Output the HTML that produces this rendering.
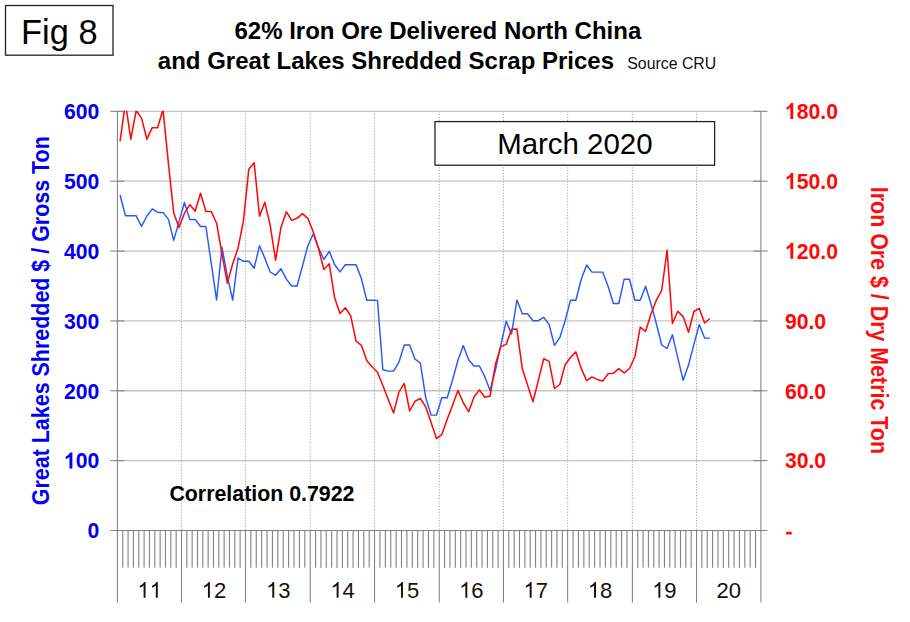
<!DOCTYPE html>
<html><head><meta charset="utf-8"><title>Fig 8</title>
<style>
html,body{margin:0;padding:0;background:#fff;}
body{width:910px;height:622px;overflow:hidden;font-family:"Liberation Sans",sans-serif;}
svg{display:block;}
text{font-family:"Liberation Sans",sans-serif;}
.yl{font-size:22.2px;font-weight:bold;fill:#0000f5;}
.yr{font-size:22.2px;font-weight:bold;fill:#ff0808;}
.xl{font-size:22px;fill:#111;}
.t1{font-size:24px;font-weight:bold;fill:#000;}
</style></head><body>
<svg width="910" height="622" viewBox="0 0 910 622">
<rect width="910" height="622" fill="#fff"/>
<defs><clipPath id="cp"><rect x="117.4" y="110.8" width="643.5" height="419.7"/></clipPath></defs>
<line x1="117.4" y1="111.30" x2="760.9" y2="111.30" stroke="#c4c4c4" stroke-width="1.3"/>
<line x1="117.4" y1="181.17" x2="760.9" y2="181.17" stroke="#c4c4c4" stroke-width="1.3"/>
<line x1="117.4" y1="251.03" x2="760.9" y2="251.03" stroke="#c4c4c4" stroke-width="1.3"/>
<line x1="117.4" y1="320.90" x2="760.9" y2="320.90" stroke="#c4c4c4" stroke-width="1.3"/>
<line x1="117.4" y1="390.77" x2="760.9" y2="390.77" stroke="#c4c4c4" stroke-width="1.3"/>
<line x1="117.4" y1="460.63" x2="760.9" y2="460.63" stroke="#c4c4c4" stroke-width="1.3"/>
<line x1="181.50" y1="111.3" x2="181.50" y2="530.5" stroke="#adadad" stroke-width="1" stroke-dasharray="1.3 1.5"/>
<line x1="245.45" y1="111.3" x2="245.45" y2="530.5" stroke="#adadad" stroke-width="1" stroke-dasharray="1.3 1.5"/>
<line x1="310.20" y1="111.3" x2="310.20" y2="530.5" stroke="#adadad" stroke-width="1" stroke-dasharray="1.3 1.5"/>
<line x1="374.55" y1="111.3" x2="374.55" y2="530.5" stroke="#adadad" stroke-width="1" stroke-dasharray="1.3 1.5"/>
<line x1="439.25" y1="111.3" x2="439.25" y2="530.5" stroke="#adadad" stroke-width="1" stroke-dasharray="1.3 1.5"/>
<line x1="503.45" y1="111.3" x2="503.45" y2="530.5" stroke="#adadad" stroke-width="1" stroke-dasharray="1.3 1.5"/>
<line x1="567.65" y1="111.3" x2="567.65" y2="530.5" stroke="#adadad" stroke-width="1" stroke-dasharray="1.3 1.5"/>
<line x1="632.40" y1="111.3" x2="632.40" y2="530.5" stroke="#adadad" stroke-width="1" stroke-dasharray="1.3 1.5"/>
<line x1="696.50" y1="111.3" x2="696.50" y2="530.5" stroke="#adadad" stroke-width="1" stroke-dasharray="1.3 1.5"/>
<line x1="122.74" y1="530.5" x2="122.74" y2="567.8" stroke="#828282" stroke-width="1.1"/>
<line x1="128.08" y1="530.5" x2="128.08" y2="567.8" stroke="#828282" stroke-width="1.1"/>
<line x1="133.43" y1="530.5" x2="133.43" y2="567.8" stroke="#828282" stroke-width="1.1"/>
<line x1="138.77" y1="530.5" x2="138.77" y2="567.8" stroke="#828282" stroke-width="1.1"/>
<line x1="144.11" y1="530.5" x2="144.11" y2="567.8" stroke="#828282" stroke-width="1.1"/>
<line x1="149.45" y1="530.5" x2="149.45" y2="567.8" stroke="#828282" stroke-width="1.1"/>
<line x1="154.79" y1="530.5" x2="154.79" y2="567.8" stroke="#828282" stroke-width="1.1"/>
<line x1="160.13" y1="530.5" x2="160.13" y2="567.8" stroke="#828282" stroke-width="1.1"/>
<line x1="165.47" y1="530.5" x2="165.47" y2="567.8" stroke="#828282" stroke-width="1.1"/>
<line x1="170.82" y1="530.5" x2="170.82" y2="567.8" stroke="#828282" stroke-width="1.1"/>
<line x1="176.16" y1="530.5" x2="176.16" y2="567.8" stroke="#828282" stroke-width="1.1"/>
<line x1="186.83" y1="530.5" x2="186.83" y2="567.8" stroke="#828282" stroke-width="1.1"/>
<line x1="192.16" y1="530.5" x2="192.16" y2="567.8" stroke="#828282" stroke-width="1.1"/>
<line x1="197.49" y1="530.5" x2="197.49" y2="567.8" stroke="#828282" stroke-width="1.1"/>
<line x1="202.82" y1="530.5" x2="202.82" y2="567.8" stroke="#828282" stroke-width="1.1"/>
<line x1="208.15" y1="530.5" x2="208.15" y2="567.8" stroke="#828282" stroke-width="1.1"/>
<line x1="213.47" y1="530.5" x2="213.47" y2="567.8" stroke="#828282" stroke-width="1.1"/>
<line x1="218.80" y1="530.5" x2="218.80" y2="567.8" stroke="#828282" stroke-width="1.1"/>
<line x1="224.13" y1="530.5" x2="224.13" y2="567.8" stroke="#828282" stroke-width="1.1"/>
<line x1="229.46" y1="530.5" x2="229.46" y2="567.8" stroke="#828282" stroke-width="1.1"/>
<line x1="234.79" y1="530.5" x2="234.79" y2="567.8" stroke="#828282" stroke-width="1.1"/>
<line x1="240.12" y1="530.5" x2="240.12" y2="567.8" stroke="#828282" stroke-width="1.1"/>
<line x1="250.85" y1="530.5" x2="250.85" y2="567.8" stroke="#828282" stroke-width="1.1"/>
<line x1="256.24" y1="530.5" x2="256.24" y2="567.8" stroke="#828282" stroke-width="1.1"/>
<line x1="261.64" y1="530.5" x2="261.64" y2="567.8" stroke="#828282" stroke-width="1.1"/>
<line x1="267.03" y1="530.5" x2="267.03" y2="567.8" stroke="#828282" stroke-width="1.1"/>
<line x1="272.43" y1="530.5" x2="272.43" y2="567.8" stroke="#828282" stroke-width="1.1"/>
<line x1="277.82" y1="530.5" x2="277.82" y2="567.8" stroke="#828282" stroke-width="1.1"/>
<line x1="283.22" y1="530.5" x2="283.22" y2="567.8" stroke="#828282" stroke-width="1.1"/>
<line x1="288.62" y1="530.5" x2="288.62" y2="567.8" stroke="#828282" stroke-width="1.1"/>
<line x1="294.01" y1="530.5" x2="294.01" y2="567.8" stroke="#828282" stroke-width="1.1"/>
<line x1="299.41" y1="530.5" x2="299.41" y2="567.8" stroke="#828282" stroke-width="1.1"/>
<line x1="304.80" y1="530.5" x2="304.80" y2="567.8" stroke="#828282" stroke-width="1.1"/>
<line x1="315.56" y1="530.5" x2="315.56" y2="567.8" stroke="#828282" stroke-width="1.1"/>
<line x1="320.93" y1="530.5" x2="320.93" y2="567.8" stroke="#828282" stroke-width="1.1"/>
<line x1="326.29" y1="530.5" x2="326.29" y2="567.8" stroke="#828282" stroke-width="1.1"/>
<line x1="331.65" y1="530.5" x2="331.65" y2="567.8" stroke="#828282" stroke-width="1.1"/>
<line x1="337.01" y1="530.5" x2="337.01" y2="567.8" stroke="#828282" stroke-width="1.1"/>
<line x1="342.38" y1="530.5" x2="342.38" y2="567.8" stroke="#828282" stroke-width="1.1"/>
<line x1="347.74" y1="530.5" x2="347.74" y2="567.8" stroke="#828282" stroke-width="1.1"/>
<line x1="353.10" y1="530.5" x2="353.10" y2="567.8" stroke="#828282" stroke-width="1.1"/>
<line x1="358.46" y1="530.5" x2="358.46" y2="567.8" stroke="#828282" stroke-width="1.1"/>
<line x1="363.82" y1="530.5" x2="363.82" y2="567.8" stroke="#828282" stroke-width="1.1"/>
<line x1="369.19" y1="530.5" x2="369.19" y2="567.8" stroke="#828282" stroke-width="1.1"/>
<line x1="379.94" y1="530.5" x2="379.94" y2="567.8" stroke="#828282" stroke-width="1.1"/>
<line x1="385.33" y1="530.5" x2="385.33" y2="567.8" stroke="#828282" stroke-width="1.1"/>
<line x1="390.73" y1="530.5" x2="390.73" y2="567.8" stroke="#828282" stroke-width="1.1"/>
<line x1="396.12" y1="530.5" x2="396.12" y2="567.8" stroke="#828282" stroke-width="1.1"/>
<line x1="401.51" y1="530.5" x2="401.51" y2="567.8" stroke="#828282" stroke-width="1.1"/>
<line x1="406.90" y1="530.5" x2="406.90" y2="567.8" stroke="#828282" stroke-width="1.1"/>
<line x1="412.29" y1="530.5" x2="412.29" y2="567.8" stroke="#828282" stroke-width="1.1"/>
<line x1="417.68" y1="530.5" x2="417.68" y2="567.8" stroke="#828282" stroke-width="1.1"/>
<line x1="423.07" y1="530.5" x2="423.07" y2="567.8" stroke="#828282" stroke-width="1.1"/>
<line x1="428.47" y1="530.5" x2="428.47" y2="567.8" stroke="#828282" stroke-width="1.1"/>
<line x1="433.86" y1="530.5" x2="433.86" y2="567.8" stroke="#828282" stroke-width="1.1"/>
<line x1="444.60" y1="530.5" x2="444.60" y2="567.8" stroke="#828282" stroke-width="1.1"/>
<line x1="449.95" y1="530.5" x2="449.95" y2="567.8" stroke="#828282" stroke-width="1.1"/>
<line x1="455.30" y1="530.5" x2="455.30" y2="567.8" stroke="#828282" stroke-width="1.1"/>
<line x1="460.65" y1="530.5" x2="460.65" y2="567.8" stroke="#828282" stroke-width="1.1"/>
<line x1="466.00" y1="530.5" x2="466.00" y2="567.8" stroke="#828282" stroke-width="1.1"/>
<line x1="471.35" y1="530.5" x2="471.35" y2="567.8" stroke="#828282" stroke-width="1.1"/>
<line x1="476.70" y1="530.5" x2="476.70" y2="567.8" stroke="#828282" stroke-width="1.1"/>
<line x1="482.05" y1="530.5" x2="482.05" y2="567.8" stroke="#828282" stroke-width="1.1"/>
<line x1="487.40" y1="530.5" x2="487.40" y2="567.8" stroke="#828282" stroke-width="1.1"/>
<line x1="492.75" y1="530.5" x2="492.75" y2="567.8" stroke="#828282" stroke-width="1.1"/>
<line x1="498.10" y1="530.5" x2="498.10" y2="567.8" stroke="#828282" stroke-width="1.1"/>
<line x1="508.80" y1="530.5" x2="508.80" y2="567.8" stroke="#828282" stroke-width="1.1"/>
<line x1="514.15" y1="530.5" x2="514.15" y2="567.8" stroke="#828282" stroke-width="1.1"/>
<line x1="519.50" y1="530.5" x2="519.50" y2="567.8" stroke="#828282" stroke-width="1.1"/>
<line x1="524.85" y1="530.5" x2="524.85" y2="567.8" stroke="#828282" stroke-width="1.1"/>
<line x1="530.20" y1="530.5" x2="530.20" y2="567.8" stroke="#828282" stroke-width="1.1"/>
<line x1="535.55" y1="530.5" x2="535.55" y2="567.8" stroke="#828282" stroke-width="1.1"/>
<line x1="540.90" y1="530.5" x2="540.90" y2="567.8" stroke="#828282" stroke-width="1.1"/>
<line x1="546.25" y1="530.5" x2="546.25" y2="567.8" stroke="#828282" stroke-width="1.1"/>
<line x1="551.60" y1="530.5" x2="551.60" y2="567.8" stroke="#828282" stroke-width="1.1"/>
<line x1="556.95" y1="530.5" x2="556.95" y2="567.8" stroke="#828282" stroke-width="1.1"/>
<line x1="562.30" y1="530.5" x2="562.30" y2="567.8" stroke="#828282" stroke-width="1.1"/>
<line x1="573.05" y1="530.5" x2="573.05" y2="567.8" stroke="#828282" stroke-width="1.1"/>
<line x1="578.44" y1="530.5" x2="578.44" y2="567.8" stroke="#828282" stroke-width="1.1"/>
<line x1="583.84" y1="530.5" x2="583.84" y2="567.8" stroke="#828282" stroke-width="1.1"/>
<line x1="589.23" y1="530.5" x2="589.23" y2="567.8" stroke="#828282" stroke-width="1.1"/>
<line x1="594.63" y1="530.5" x2="594.63" y2="567.8" stroke="#828282" stroke-width="1.1"/>
<line x1="600.02" y1="530.5" x2="600.02" y2="567.8" stroke="#828282" stroke-width="1.1"/>
<line x1="605.42" y1="530.5" x2="605.42" y2="567.8" stroke="#828282" stroke-width="1.1"/>
<line x1="610.82" y1="530.5" x2="610.82" y2="567.8" stroke="#828282" stroke-width="1.1"/>
<line x1="616.21" y1="530.5" x2="616.21" y2="567.8" stroke="#828282" stroke-width="1.1"/>
<line x1="621.61" y1="530.5" x2="621.61" y2="567.8" stroke="#828282" stroke-width="1.1"/>
<line x1="627.00" y1="530.5" x2="627.00" y2="567.8" stroke="#828282" stroke-width="1.1"/>
<line x1="637.74" y1="530.5" x2="637.74" y2="567.8" stroke="#828282" stroke-width="1.1"/>
<line x1="643.08" y1="530.5" x2="643.08" y2="567.8" stroke="#828282" stroke-width="1.1"/>
<line x1="648.42" y1="530.5" x2="648.42" y2="567.8" stroke="#828282" stroke-width="1.1"/>
<line x1="653.77" y1="530.5" x2="653.77" y2="567.8" stroke="#828282" stroke-width="1.1"/>
<line x1="659.11" y1="530.5" x2="659.11" y2="567.8" stroke="#828282" stroke-width="1.1"/>
<line x1="664.45" y1="530.5" x2="664.45" y2="567.8" stroke="#828282" stroke-width="1.1"/>
<line x1="669.79" y1="530.5" x2="669.79" y2="567.8" stroke="#828282" stroke-width="1.1"/>
<line x1="675.13" y1="530.5" x2="675.13" y2="567.8" stroke="#828282" stroke-width="1.1"/>
<line x1="680.48" y1="530.5" x2="680.48" y2="567.8" stroke="#828282" stroke-width="1.1"/>
<line x1="685.82" y1="530.5" x2="685.82" y2="567.8" stroke="#828282" stroke-width="1.1"/>
<line x1="691.16" y1="530.5" x2="691.16" y2="567.8" stroke="#828282" stroke-width="1.1"/>
<line x1="701.87" y1="530.5" x2="701.87" y2="567.8" stroke="#828282" stroke-width="1.1"/>
<line x1="707.23" y1="530.5" x2="707.23" y2="567.8" stroke="#828282" stroke-width="1.1"/>
<line x1="712.60" y1="530.5" x2="712.60" y2="567.8" stroke="#828282" stroke-width="1.1"/>
<line x1="717.97" y1="530.5" x2="717.97" y2="567.8" stroke="#828282" stroke-width="1.1"/>
<line x1="723.33" y1="530.5" x2="723.33" y2="567.8" stroke="#828282" stroke-width="1.1"/>
<line x1="728.70" y1="530.5" x2="728.70" y2="567.8" stroke="#828282" stroke-width="1.1"/>
<line x1="734.07" y1="530.5" x2="734.07" y2="567.8" stroke="#828282" stroke-width="1.1"/>
<line x1="739.43" y1="530.5" x2="739.43" y2="567.8" stroke="#828282" stroke-width="1.1"/>
<line x1="744.80" y1="530.5" x2="744.80" y2="567.8" stroke="#828282" stroke-width="1.1"/>
<line x1="750.17" y1="530.5" x2="750.17" y2="567.8" stroke="#828282" stroke-width="1.1"/>
<line x1="755.53" y1="530.5" x2="755.53" y2="567.8" stroke="#828282" stroke-width="1.1"/>
<line x1="117.40" y1="111.3" x2="117.40" y2="602.6" stroke="#808080" stroke-width="1.05"/>
<line x1="181.50" y1="530.5" x2="181.50" y2="602.6" stroke="#808080" stroke-width="1.05"/>
<line x1="245.45" y1="530.5" x2="245.45" y2="602.6" stroke="#808080" stroke-width="1.05"/>
<line x1="310.20" y1="530.5" x2="310.20" y2="602.6" stroke="#808080" stroke-width="1.05"/>
<line x1="374.55" y1="530.5" x2="374.55" y2="602.6" stroke="#808080" stroke-width="1.05"/>
<line x1="439.25" y1="530.5" x2="439.25" y2="602.6" stroke="#808080" stroke-width="1.05"/>
<line x1="503.45" y1="530.5" x2="503.45" y2="602.6" stroke="#808080" stroke-width="1.05"/>
<line x1="567.65" y1="530.5" x2="567.65" y2="602.6" stroke="#808080" stroke-width="1.05"/>
<line x1="632.40" y1="530.5" x2="632.40" y2="602.6" stroke="#808080" stroke-width="1.05"/>
<line x1="696.50" y1="530.5" x2="696.50" y2="602.6" stroke="#808080" stroke-width="1.05"/>
<line x1="760.90" y1="111.3" x2="760.90" y2="602.6" stroke="#808080" stroke-width="1.05"/>
<line x1="110.3" y1="530.5" x2="767.5" y2="530.5" stroke="#808080" stroke-width="1.05"/>
<line x1="110.3" y1="111.30" x2="124.5" y2="111.30" stroke="#808080" stroke-width="1.05"/>
<line x1="753.3" y1="111.30" x2="767.5" y2="111.30" stroke="#808080" stroke-width="1.05"/>
<line x1="110.3" y1="181.17" x2="124.5" y2="181.17" stroke="#808080" stroke-width="1.05"/>
<line x1="753.3" y1="181.17" x2="767.5" y2="181.17" stroke="#808080" stroke-width="1.05"/>
<line x1="110.3" y1="251.03" x2="124.5" y2="251.03" stroke="#808080" stroke-width="1.05"/>
<line x1="753.3" y1="251.03" x2="767.5" y2="251.03" stroke="#808080" stroke-width="1.05"/>
<line x1="110.3" y1="320.90" x2="124.5" y2="320.90" stroke="#808080" stroke-width="1.05"/>
<line x1="753.3" y1="320.90" x2="767.5" y2="320.90" stroke="#808080" stroke-width="1.05"/>
<line x1="110.3" y1="390.77" x2="124.5" y2="390.77" stroke="#808080" stroke-width="1.05"/>
<line x1="753.3" y1="390.77" x2="767.5" y2="390.77" stroke="#808080" stroke-width="1.05"/>
<line x1="110.3" y1="460.63" x2="124.5" y2="460.63" stroke="#808080" stroke-width="1.05"/>
<line x1="753.3" y1="460.63" x2="767.5" y2="460.63" stroke="#808080" stroke-width="1.05"/>
<text transform="translate(64.03,119.05) scale(0.955,1)" class="yl">6</text>
<text transform="translate(75.82,119.05) scale(0.955,1)" class="yl">0</text>
<text transform="translate(87.61,119.05) scale(0.955,1)" class="yl">0</text>
<text transform="translate(64.03,188.92) scale(0.955,1)" class="yl">5</text>
<text transform="translate(75.82,188.92) scale(0.955,1)" class="yl">0</text>
<text transform="translate(87.61,188.92) scale(0.955,1)" class="yl">0</text>
<text transform="translate(64.03,258.78) scale(0.955,1)" class="yl">4</text>
<text transform="translate(75.82,258.78) scale(0.955,1)" class="yl">0</text>
<text transform="translate(87.61,258.78) scale(0.955,1)" class="yl">0</text>
<text transform="translate(64.03,328.65) scale(0.955,1)" class="yl">3</text>
<text transform="translate(75.82,328.65) scale(0.955,1)" class="yl">0</text>
<text transform="translate(87.61,328.65) scale(0.955,1)" class="yl">0</text>
<text transform="translate(64.03,398.52) scale(0.955,1)" class="yl">2</text>
<text transform="translate(75.82,398.52) scale(0.955,1)" class="yl">0</text>
<text transform="translate(87.61,398.52) scale(0.955,1)" class="yl">0</text>
<path d="M806 0H525V1059Q371 915 162 846V1101Q272 1137 401 1237.5Q530 1338 578 1472H806Z" transform="translate(64.03,468.38) scale(0.010352,-0.010840)" fill="#0000f5"/>
<text transform="translate(75.82,468.38) scale(0.955,1)" class="yl">0</text>
<text transform="translate(87.61,468.38) scale(0.955,1)" class="yl">0</text>
<text transform="translate(87.61,538.25) scale(0.955,1)" class="yl">0</text>
<path d="M806 0H525V1059Q371 915 162 846V1101Q272 1137 401 1237.5Q530 1338 578 1472H806Z" transform="translate(784.90,119.05) scale(0.010352,-0.010840)" fill="#ff0808"/>
<text transform="translate(796.69,119.05) scale(0.955,1)" class="yr">8</text>
<text transform="translate(808.48,119.05) scale(0.955,1)" class="yr">0</text>
<text transform="translate(820.27,119.05) scale(0.955,1)" class="yr">.</text>
<text transform="translate(826.16,119.05) scale(0.955,1)" class="yr">0</text>
<path d="M806 0H525V1059Q371 915 162 846V1101Q272 1137 401 1237.5Q530 1338 578 1472H806Z" transform="translate(784.90,188.92) scale(0.010352,-0.010840)" fill="#ff0808"/>
<text transform="translate(796.69,188.92) scale(0.955,1)" class="yr">5</text>
<text transform="translate(808.48,188.92) scale(0.955,1)" class="yr">0</text>
<text transform="translate(820.27,188.92) scale(0.955,1)" class="yr">.</text>
<text transform="translate(826.16,188.92) scale(0.955,1)" class="yr">0</text>
<path d="M806 0H525V1059Q371 915 162 846V1101Q272 1137 401 1237.5Q530 1338 578 1472H806Z" transform="translate(784.90,258.78) scale(0.010352,-0.010840)" fill="#ff0808"/>
<text transform="translate(796.69,258.78) scale(0.955,1)" class="yr">2</text>
<text transform="translate(808.48,258.78) scale(0.955,1)" class="yr">0</text>
<text transform="translate(820.27,258.78) scale(0.955,1)" class="yr">.</text>
<text transform="translate(826.16,258.78) scale(0.955,1)" class="yr">0</text>
<text transform="translate(784.90,328.65) scale(0.955,1)" class="yr">9</text>
<text transform="translate(796.69,328.65) scale(0.955,1)" class="yr">0</text>
<text transform="translate(808.48,328.65) scale(0.955,1)" class="yr">.</text>
<text transform="translate(814.37,328.65) scale(0.955,1)" class="yr">0</text>
<text transform="translate(784.90,398.52) scale(0.955,1)" class="yr">6</text>
<text transform="translate(796.69,398.52) scale(0.955,1)" class="yr">0</text>
<text transform="translate(808.48,398.52) scale(0.955,1)" class="yr">.</text>
<text transform="translate(814.37,398.52) scale(0.955,1)" class="yr">0</text>
<text transform="translate(784.90,468.38) scale(0.955,1)" class="yr">3</text>
<text transform="translate(796.69,468.38) scale(0.955,1)" class="yr">0</text>
<text transform="translate(808.48,468.38) scale(0.955,1)" class="yr">.</text>
<text transform="translate(814.37,468.38) scale(0.955,1)" class="yr">0</text>
<rect x="786.1" y="531.8" width="5.6" height="2.7" fill="#ff0d0d"/>
<path d="M763 0H583V1147Q518 1085 412.5 1023Q307 961 223 930V1104Q374 1175 487 1276Q600 1377 647 1472H763Z" transform="translate(137.34,597.8) scale(0.010742,-0.010742)" fill="#111"/>
<path d="M763 0H583V1147Q518 1085 412.5 1023Q307 961 223 930V1104Q374 1175 487 1276Q600 1377 647 1472H763Z" transform="translate(149.57,597.8) scale(0.010742,-0.010742)" fill="#111"/>
<path d="M763 0H583V1147Q518 1085 412.5 1023Q307 961 223 930V1104Q374 1175 487 1276Q600 1377 647 1472H763Z" transform="translate(201.69,597.8) scale(0.010742,-0.010742)" fill="#111"/>
<text x="213.93" y="597.8" text-anchor="start" class="xl">2</text>
<path d="M763 0H583V1147Q518 1085 412.5 1023Q307 961 223 930V1104Q374 1175 487 1276Q600 1377 647 1472H763Z" transform="translate(266.04,597.8) scale(0.010742,-0.010742)" fill="#111"/>
<text x="278.27" y="597.8" text-anchor="start" class="xl">3</text>
<path d="M763 0H583V1147Q518 1085 412.5 1023Q307 961 223 930V1104Q374 1175 487 1276Q600 1377 647 1472H763Z" transform="translate(330.39,597.8) scale(0.010742,-0.010742)" fill="#111"/>
<text x="342.62" y="597.8" text-anchor="start" class="xl">4</text>
<path d="M763 0H583V1147Q518 1085 412.5 1023Q307 961 223 930V1104Q374 1175 487 1276Q600 1377 647 1472H763Z" transform="translate(394.74,597.8) scale(0.010742,-0.010742)" fill="#111"/>
<text x="406.98" y="597.8" text-anchor="start" class="xl">5</text>
<path d="M763 0H583V1147Q518 1085 412.5 1023Q307 961 223 930V1104Q374 1175 487 1276Q600 1377 647 1472H763Z" transform="translate(459.09,597.8) scale(0.010742,-0.010742)" fill="#111"/>
<text x="471.32" y="597.8" text-anchor="start" class="xl">6</text>
<path d="M763 0H583V1147Q518 1085 412.5 1023Q307 961 223 930V1104Q374 1175 487 1276Q600 1377 647 1472H763Z" transform="translate(523.44,597.8) scale(0.010742,-0.010742)" fill="#111"/>
<text x="535.67" y="597.8" text-anchor="start" class="xl">7</text>
<path d="M763 0H583V1147Q518 1085 412.5 1023Q307 961 223 930V1104Q374 1175 487 1276Q600 1377 647 1472H763Z" transform="translate(587.79,597.8) scale(0.010742,-0.010742)" fill="#111"/>
<text x="600.02" y="597.8" text-anchor="start" class="xl">8</text>
<path d="M763 0H583V1147Q518 1085 412.5 1023Q307 961 223 930V1104Q374 1175 487 1276Q600 1377 647 1472H763Z" transform="translate(652.14,597.8) scale(0.010742,-0.010742)" fill="#111"/>
<text x="664.37" y="597.8" text-anchor="start" class="xl">9</text>
<text x="716.49" y="597.8" text-anchor="start" class="xl">2</text>
<text x="728.72" y="597.8" text-anchor="start" class="xl">0</text>
<g clip-path="url(#cp)" fill="none" stroke-linejoin="round" stroke-linecap="butt">
<polyline points="120.08,195.05 125.44,215.80 130.81,215.80 136.17,215.80 141.53,226.40 146.89,216.00 152.25,208.90 157.62,212.40 162.98,212.40 168.34,219.10 173.70,240.40 179.07,221.40 184.43,202.50 189.79,219.40 195.16,219.40 200.52,226.50 205.88,226.50 211.24,263.30 216.60,300.05 221.97,247.30 227.33,276.20 232.69,300.05 238.06,258.00 243.42,261.30 248.78,261.30 254.14,268.20 259.50,245.70 264.87,258.40 270.23,272.00 275.59,275.30 280.95,268.70 286.32,279.10 291.68,286.00 297.04,286.00 302.40,266.30 307.77,246.00 313.13,234.00 318.49,247.80 323.86,259.50 329.22,251.30 334.58,264.50 339.94,271.90 345.31,264.80 350.67,264.80 356.03,264.80 361.39,278.50 366.75,300.30 372.12,300.30 377.48,300.40 382.84,369.70 388.20,371.10 393.57,371.10 398.93,362.10 404.29,345.00 409.65,345.00 415.02,359.20 420.38,363.00 425.74,397.80 431.10,415.10 436.47,415.10 441.83,397.80 447.19,397.80 452.55,380.00 457.92,360.30 463.28,345.60 468.64,359.70 474.00,366.00 479.37,366.00 484.73,376.40 490.09,390.40 495.45,370.00 500.82,345.10 506.18,321.20 511.54,334.10 516.90,300.10 522.27,313.80 527.63,313.80 532.99,320.70 538.36,320.70 543.72,317.40 549.08,324.50 554.44,345.40 559.80,337.70 565.17,320.50 570.53,300.20 575.89,300.20 581.25,279.20 586.62,265.05 591.98,272.10 597.34,272.10 602.71,272.10 608.07,286.20 613.43,303.50 618.79,303.50 624.15,279.20 629.52,279.20 634.88,300.20 640.24,300.20 645.61,286.20 650.97,304.00 656.33,323.50 661.69,345.00 667.06,348.50 672.42,334.80 677.78,357.60 683.14,380.30 688.50,365.00 693.87,344.40 699.23,324.60 704.59,338.10 709.96,338.10" stroke="#2559fb" stroke-width="1.45"/>
<polyline points="120.08,141.20 125.44,102.80 130.81,139.20 136.17,110.50 141.53,118.10 146.89,139.20 152.25,127.70 157.62,127.70 162.98,109.50 168.34,162.60 173.70,212.90 179.07,227.40 184.43,213.30 189.79,204.60 195.16,211.20 200.52,193.30 205.88,211.40 211.24,211.40 216.60,223.20 221.97,254.00 227.33,283.10 232.69,263.80 238.06,248.10 243.42,220.80 248.78,169.30 254.14,162.70 259.50,216.15 264.87,202.30 270.23,225.70 275.59,260.20 280.95,227.40 286.32,211.70 291.68,220.40 297.04,218.30 302.40,213.70 307.77,218.30 313.13,231.50 318.49,248.50 323.86,269.50 329.22,263.70 334.58,297.50 339.94,313.60 345.31,307.70 350.67,315.70 356.03,341.20 361.39,345.30 366.75,360.50 372.12,367.00 377.48,372.20 382.84,385.50 388.20,399.20 393.57,413.00 398.93,392.10 404.29,383.40 409.65,411.00 415.02,401.20 420.38,398.50 425.74,406.90 431.10,422.50 436.47,438.50 441.83,434.60 447.19,419.20 452.55,405.20 457.92,390.40 463.28,402.70 468.64,411.80 474.00,397.00 479.37,389.90 484.73,397.30 490.09,396.00 495.45,364.30 500.82,346.60 506.18,344.40 511.54,329.30 516.90,329.10 522.27,368.60 527.63,385.20 532.99,401.70 538.36,380.40 543.72,358.70 549.08,361.40 554.44,388.50 559.80,384.50 565.17,364.70 570.53,357.30 575.89,351.90 581.25,368.40 586.62,380.60 591.98,377.00 597.34,379.40 602.71,381.10 608.07,373.70 613.43,373.20 618.79,368.70 624.15,372.90 629.52,368.50 634.88,356.75 640.24,327.20 645.61,331.30 650.97,314.00 656.33,300.20 661.69,290.50 667.06,250.20 672.42,323.50 677.78,311.30 683.14,316.60 688.50,332.20 693.87,311.50 699.23,308.40 704.59,323.00 709.96,318.50" stroke="#ff0a0a" stroke-width="1.55"/>
</g>
<!-- Fig 8 box -->
<rect x="5.5" y="5.5" width="107.5" height="49.7" fill="#fff" stroke="#222" stroke-width="1.3"/>
<text transform="translate(59.3,43.6) scale(0.963,1)" text-anchor="middle" font-size="35.7" fill="#000">Fig 8</text>
<!-- Titles -->
<text x="437.85" y="38.9" text-anchor="middle" class="t1">62% Iron Ore Delivered North China</text>
<text x="385.95" y="68.6" text-anchor="middle" class="t1">and Great Lakes Shredded Scrap Prices</text>
<text x="627.3" y="68.6" font-size="15.85" fill="#111">Source CRU</text>
<!-- March box -->
<rect x="435.0" y="121.6" width="279.6" height="43.6" fill="#fff" stroke="#222" stroke-width="1.3"/>
<text transform="translate(574.85,154.4) scale(0.981,1)" text-anchor="middle" font-size="30" fill="#000">March 2020</text>
<!-- Correlation -->
<text x="169.4" y="500.7" font-size="21.35" font-weight="bold" fill="#000">Correlation 0.7922</text>
<!-- Axis titles -->
<text transform="translate(49.2,320.7) rotate(-90) scale(1,1.12)" text-anchor="middle" font-size="21.45" font-weight="bold" fill="#0000f5">Great Lakes Shredded $ / Gross Ton</text>
<text transform="translate(871.3,320.4) rotate(90) scale(1,1.12)" text-anchor="middle" font-size="21.4" font-weight="bold" fill="#ff0d0d">Iron Ore $ / Dry Metric Ton</text>
</svg>
</body></html>
